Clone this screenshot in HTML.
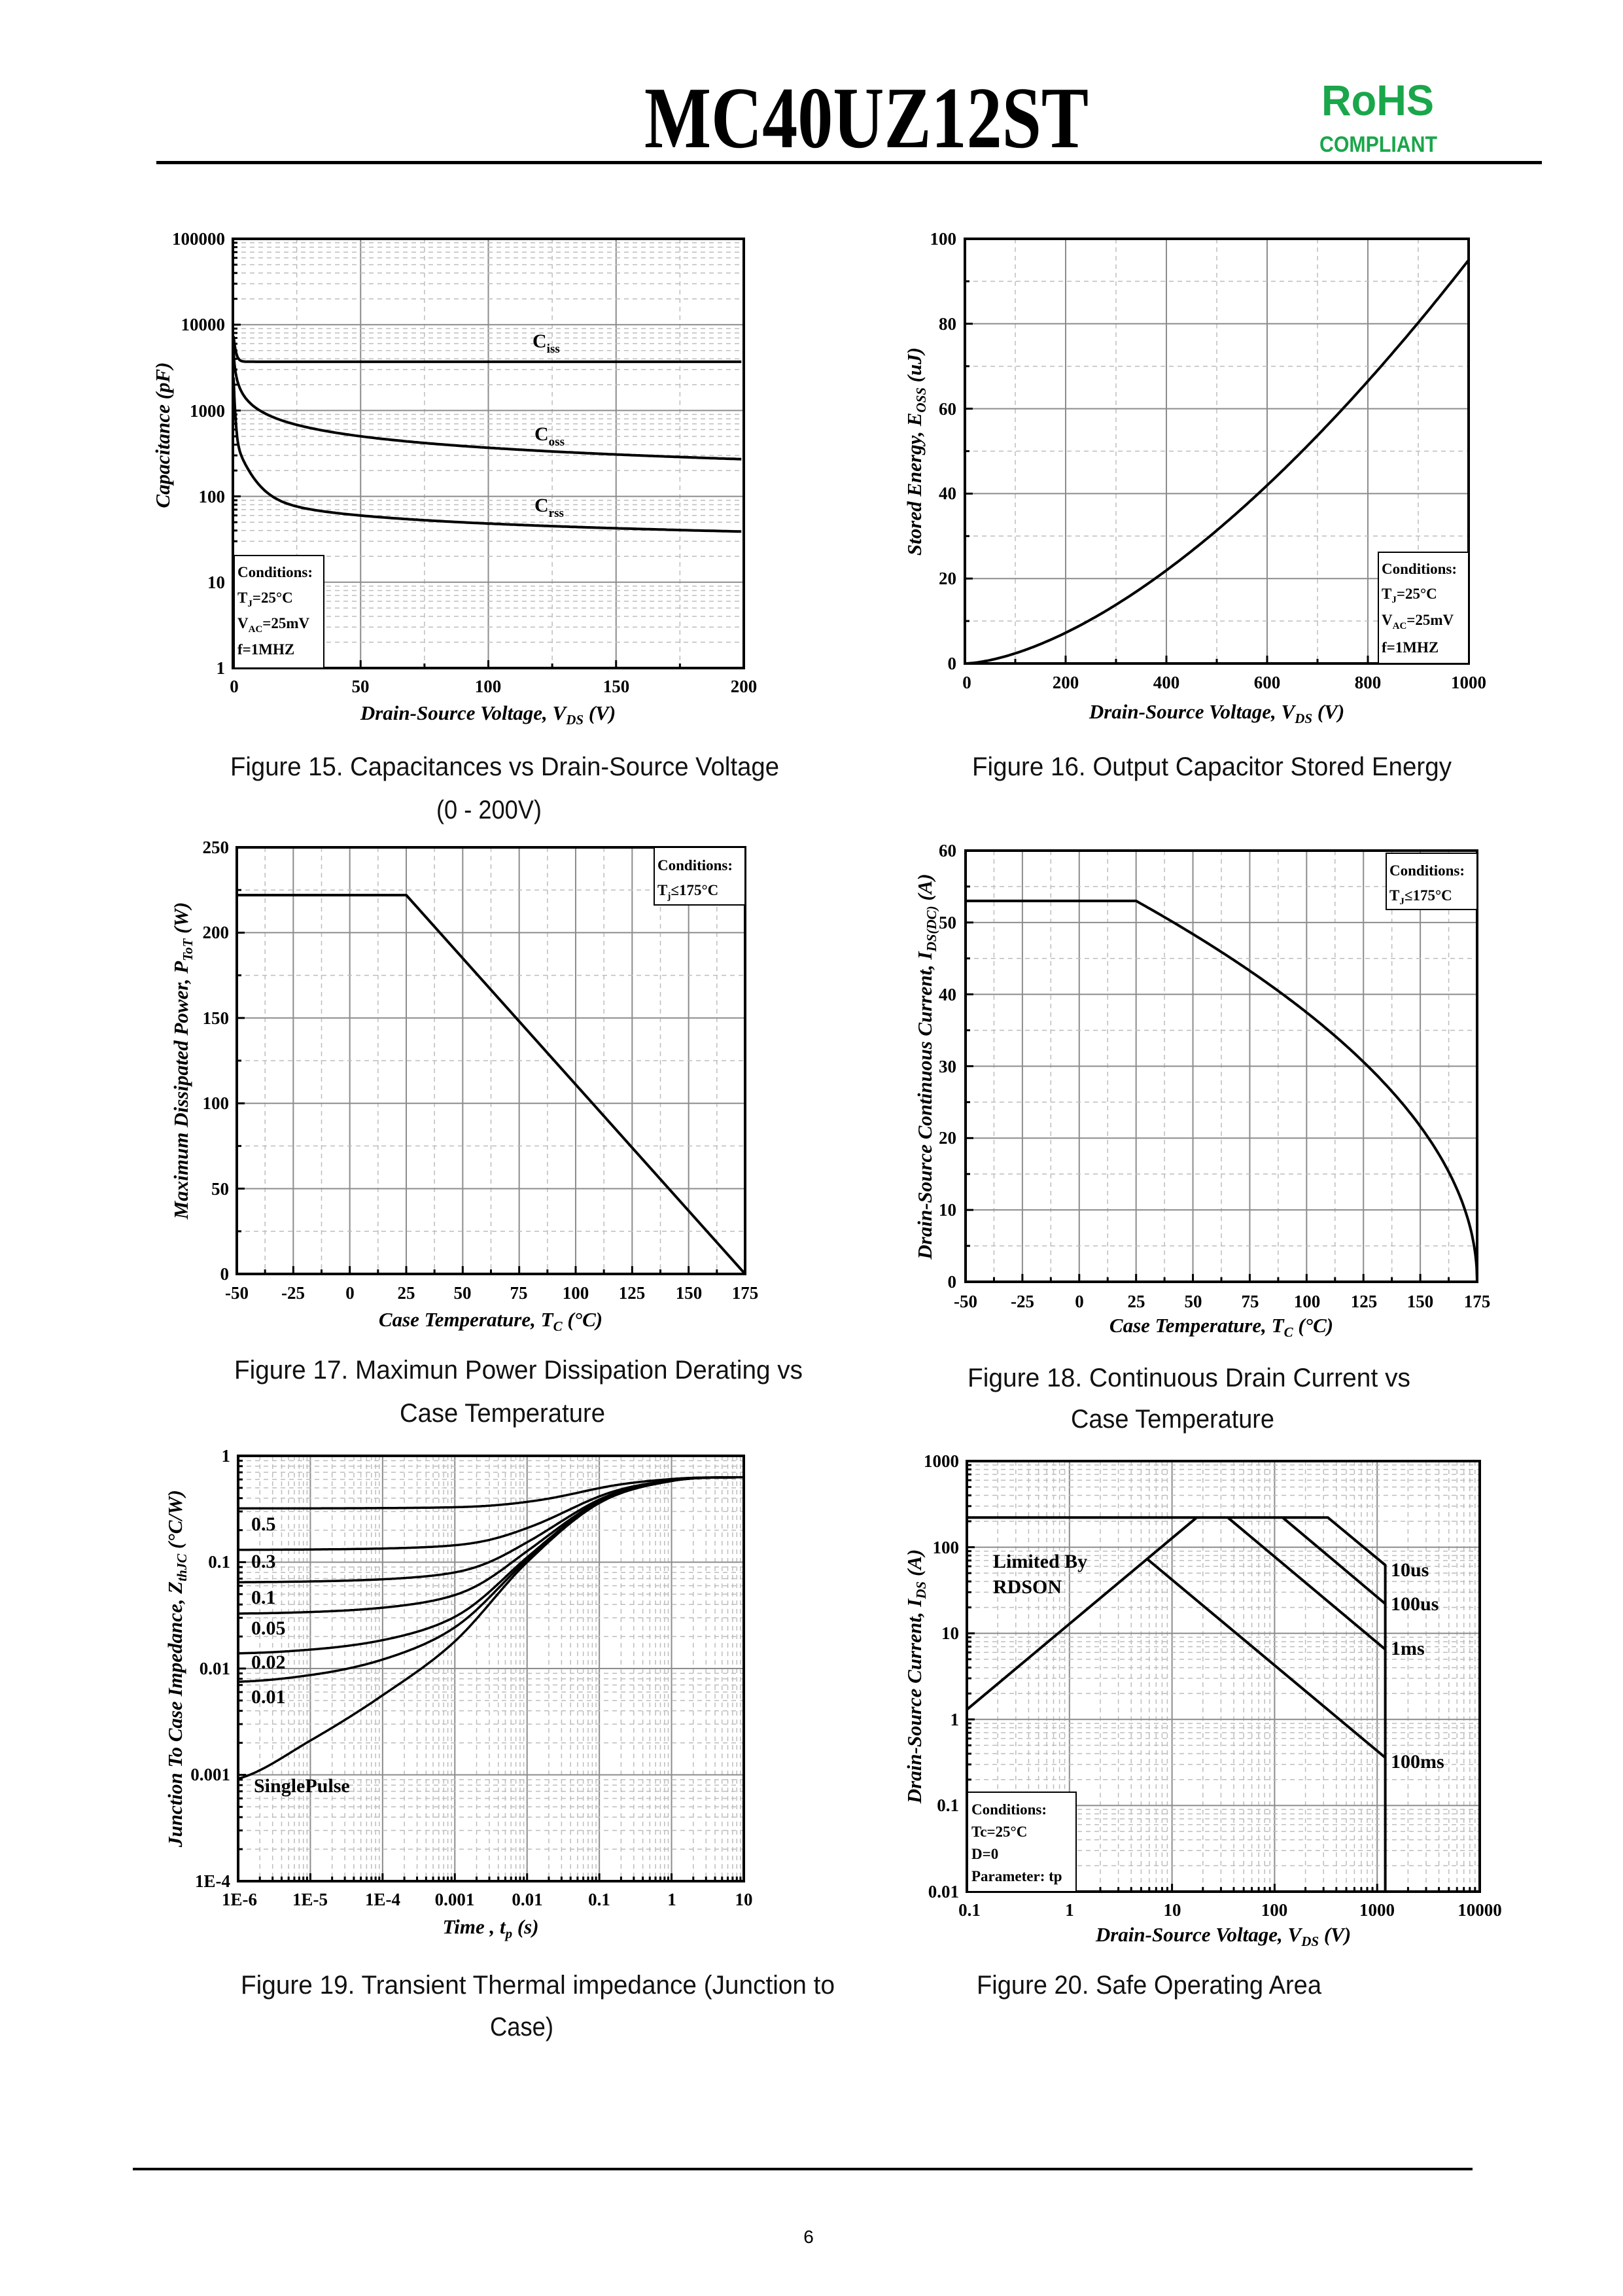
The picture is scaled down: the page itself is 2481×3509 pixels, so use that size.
<!DOCTYPE html>
<html><head><meta charset="utf-8"><style>
html,body{margin:0;padding:0;background:#fff}
svg{display:block}
.t{font-family:"Liberation Serif",serif;font-weight:bold;font-size:27px;fill:#000}
.ax{font-family:"Liberation Serif",serif;font-weight:bold;font-style:italic;font-size:31px;fill:#000}
.cd{font-family:"Liberation Serif",serif;font-weight:bold;font-size:23px;fill:#000}
.cap{font-family:"Liberation Sans Narrow","Liberation Sans",sans-serif;font-size:40px;fill:#111}
.lb{font-family:"Liberation Serif",serif;font-weight:bold;font-size:30px;fill:#000}
</style></head><body>
<svg id="s" xmlns="http://www.w3.org/2000/svg" width="2481" height="3509" viewBox="0 0 2481 3509">
<rect width="2481" height="3509" fill="#fff"/>
<g id="gr"></g>
<g id="tx">
<!-- header -->
<text x="985" y="225" font-family="Liberation Serif,serif" font-weight="bold" font-size="134" textLength="679" lengthAdjust="spacingAndGlyphs">MC40UZ12ST</text>
<text x="2020" y="176" font-family="Liberation Sans,sans-serif" font-weight="bold" font-size="66" fill="#1aa64a" textLength="172" lengthAdjust="spacingAndGlyphs">RoHS</text>
<text x="2017" y="232" font-family="Liberation Sans,sans-serif" font-weight="bold" font-size="34" fill="#1aa64a" textLength="180" lengthAdjust="spacingAndGlyphs">COMPLIANT</text>
<rect x="239" y="246" width="2118" height="5" fill="#000"/>
<rect x="203" y="3313" width="2048" height="4" fill="#000"/>
<text x="1236" y="3428" font-family="Liberation Sans,sans-serif" font-size="28" text-anchor="middle">6</text>

<!-- captions -->
<text class="cap" x="352" y="1185" textLength="839" lengthAdjust="spacingAndGlyphs">Figure 15. Capacitances vs Drain-Source Voltage</text>
<text class="cap" x="667" y="1251" textLength="161" lengthAdjust="spacingAndGlyphs">(0 - 200V)</text>
<text class="cap" x="1486" y="1185" textLength="733" lengthAdjust="spacingAndGlyphs">Figure 16. Output Capacitor Stored Energy</text>
<text class="cap" x="358" y="2107" textLength="869" lengthAdjust="spacingAndGlyphs">Figure 17. Maximun Power Dissipation Derating vs</text>
<text class="cap" x="611" y="2173" textLength="314" lengthAdjust="spacingAndGlyphs">Case Temperature</text>
<text class="cap" x="1479" y="2119" textLength="677" lengthAdjust="spacingAndGlyphs">Figure 18. Continuous Drain Current vs</text>
<text class="cap" x="1637" y="2182" textLength="311" lengthAdjust="spacingAndGlyphs">Case Temperature</text>
<text class="cap" x="368" y="3047" textLength="908" lengthAdjust="spacingAndGlyphs">Figure 19. Transient Thermal impedance (Junction to</text>
<text class="cap" x="749" y="3111" textLength="97" lengthAdjust="spacingAndGlyphs">Case)</text>
<text class="cap" x="1493" y="3047" textLength="527" lengthAdjust="spacingAndGlyphs">Figure 20. Safe Operating Area</text>

<!-- Chart 15 -->
<g class="t" text-anchor="end">
<text x="344" y="374">100000</text><text x="344" y="505">10000</text><text x="344" y="637">1000</text>
<text x="344" y="768">100</text><text x="344" y="899">10</text><text x="344" y="1030">1</text>
</g>
<g class="t" text-anchor="middle">
<text x="358" y="1058">0</text><text x="551" y="1058">50</text><text x="746" y="1058">100</text><text x="942" y="1058">150</text><text x="1137" y="1058">200</text>
</g>
<text class="ax" x="746" y="1100" text-anchor="middle">Drain-Source Voltage, V<tspan font-size="21" dy="7">DS</tspan><tspan dy="-7"> (V)</tspan></text>
<text class="ax" font-size="35" transform="translate(259,665) rotate(-90)" text-anchor="middle">Capacitance (pF)</text>
<text class="lb" x="814" y="531">C<tspan font-size="19" dy="8">iss</tspan></text>
<text class="lb" x="817" y="673">C<tspan font-size="19" dy="8">oss</tspan></text>
<text class="lb" x="817" y="782">C<tspan font-size="19" dy="8">rss</tspan></text>
<g class="cd">
<text x="363" y="882">Conditions:</text>
<text x="363" y="921">T<tspan font-size="15" dy="6">J</tspan><tspan dy="-6">=25°C</tspan></text>
<text x="363" y="960">V<tspan font-size="15" dy="6">AC</tspan><tspan dy="-6">=25mV</tspan></text>
<text x="363" y="1000">f=1MHZ</text>
</g>

<!-- Chart 16 -->
<g class="t" text-anchor="end">
<text x="1462" y="374">100</text><text x="1462" y="504">80</text><text x="1462" y="634">60</text>
<text x="1462" y="763">40</text><text x="1462" y="893">20</text><text x="1462" y="1023">0</text>
</g>
<g class="t" text-anchor="middle">
<text x="1478" y="1052">0</text><text x="1629" y="1052">200</text><text x="1783" y="1052">400</text><text x="1937" y="1052">600</text><text x="2091" y="1052">800</text><text x="2245" y="1052">1000</text>
</g>
<text class="ax" x="1860" y="1098" text-anchor="middle">Drain-Source Voltage, V<tspan font-size="21" dy="7">DS</tspan><tspan dy="-7"> (V)</tspan></text>
<text class="ax" transform="translate(1408,690) rotate(-90)" text-anchor="middle">Stored Energy, E<tspan font-size="21" dy="7">OSS</tspan><tspan dy="-7"> (uJ)</tspan></text>
<g class="cd">
<text x="2112" y="877">Conditions:</text>
<text x="2112" y="915">T<tspan font-size="15" dy="6">J</tspan><tspan dy="-6">=25°C</tspan></text>
<text x="2112" y="955">V<tspan font-size="15" dy="6">AC</tspan><tspan dy="-6">=25mV</tspan></text>
<text x="2112" y="997">f=1MHZ</text>
</g>

<!-- Chart 17 -->
<g class="t" text-anchor="end">
<text x="350" y="1304">250</text><text x="350" y="1434">200</text><text x="350" y="1565">150</text>
<text x="350" y="1695">100</text><text x="350" y="1826">50</text><text x="350" y="1956">0</text>
</g>
<g class="t" text-anchor="middle">
<text x="362" y="1985">-50</text><text x="448" y="1985">-25</text><text x="535" y="1985">0</text><text x="621" y="1985">25</text><text x="707" y="1985">50</text><text x="793" y="1985">75</text><text x="880" y="1985">100</text><text x="966" y="1985">125</text><text x="1053" y="1985">150</text><text x="1139" y="1985">175</text>
</g>
<text class="ax" x="750" y="2027" text-anchor="middle">Case Temperature, T<tspan font-size="21" dy="7">C</tspan><tspan dy="-7"> (°C)</tspan></text>
<text class="ax" transform="translate(287,1621) rotate(-90)" text-anchor="middle">Maximum Dissipated Power, P<tspan font-size="21" dy="7">ToT</tspan><tspan dy="-7"> (W)</tspan></text>
<g class="cd">
<text x="1005" y="1330">Conditions:</text>
<text x="1005" y="1368">T<tspan font-size="15" dy="6">j</tspan><tspan dy="-6">≤175°C</tspan></text>
</g>

<!-- Chart 18 -->
<g class="t" text-anchor="end">
<text x="1462" y="1309">60</text><text x="1462" y="1419">50</text><text x="1462" y="1529">40</text>
<text x="1462" y="1639">30</text><text x="1462" y="1748">20</text><text x="1462" y="1858">10</text><text x="1462" y="1968">0</text>
</g>
<g class="t" text-anchor="middle">
<text x="1476" y="1998">-50</text><text x="1563" y="1998">-25</text><text x="1650" y="1998">0</text><text x="1737" y="1998">25</text><text x="1824" y="1998">50</text><text x="1911" y="1998">75</text><text x="1998" y="1998">100</text><text x="2085" y="1998">125</text><text x="2171" y="1998">150</text><text x="2258" y="1998">175</text>
</g>
<text class="ax" x="1867" y="2036" text-anchor="middle">Case Temperature, T<tspan font-size="21" dy="7">C</tspan><tspan dy="-7"> (°C)</tspan></text>
<text class="ax" transform="translate(1424,1630) rotate(-90)" text-anchor="middle">Drain-Source Continuous Current, I<tspan font-size="21" dy="7">DS(DC)</tspan><tspan dy="-7"> (A)</tspan></text>
<g class="cd">
<text x="2124" y="1338">Conditions:</text>
<text x="2124" y="1376">T<tspan font-size="15" dy="6">J</tspan><tspan dy="-6">≤175°C</tspan></text>
</g>

<!-- Chart 19 -->
<g class="t" text-anchor="end">
<text x="352" y="2234">1</text><text x="352" y="2396">0.1</text><text x="352" y="2559">0.01</text>
<text x="352" y="2721">0.001</text><text x="352" y="2884">1E-4</text>
</g>
<g class="t" text-anchor="middle">
<text x="366" y="2912">1E-6</text><text x="474" y="2912">1E-5</text><text x="585" y="2912">1E-4</text><text x="695" y="2912">0.001</text><text x="806" y="2912">0.01</text><text x="916" y="2912">0.1</text><text x="1027" y="2912">1</text><text x="1137" y="2912">10</text>
</g>
<text class="ax" x="750" y="2955" text-anchor="middle">Time , t<tspan font-size="21" dy="7">p</tspan><tspan dy="-7"> (s)</tspan></text>
<text class="ax" transform="translate(278,2550) rotate(-90)" text-anchor="middle">Junction To Case Impedance, Z<tspan font-size="21" dy="7">thJC</tspan><tspan dy="-7"> (°C/W)</tspan></text>
<g class="lb" font-size="27">
<text x="384" y="2339">0.5</text><text x="384" y="2396">0.3</text><text x="384" y="2451">0.1</text>
<text x="384" y="2498">0.05</text><text x="384" y="2550">0.02</text><text x="384" y="2603">0.01</text>
<text x="388" y="2739">SinglePulse</text>
</g>

<!-- Chart 20 -->
<g class="t" text-anchor="end">
<text x="1466" y="2242">1000</text><text x="1466" y="2374">100</text><text x="1466" y="2505">10</text>
<text x="1466" y="2637">1</text><text x="1466" y="2768">0.1</text><text x="1466" y="2900">0.01</text>
</g>
<g class="t" text-anchor="middle">
<text x="1482" y="2928">0.1</text><text x="1635" y="2928">1</text><text x="1792" y="2928">10</text><text x="1948" y="2928">100</text><text x="2105" y="2928">1000</text><text x="2262" y="2928">10000</text>
</g>
<text class="ax" x="1870" y="2967" text-anchor="middle">Drain-Source Voltage, V<tspan font-size="21" dy="7">DS</tspan><tspan dy="-7"> (V)</tspan></text>
<text class="ax" transform="translate(1408,2562) rotate(-90)" text-anchor="middle">Drain-Source Current, I<tspan font-size="21" dy="7">DS</tspan><tspan dy="-7"> (A)</tspan></text>
<g class="lb" font-size="29">
<text x="1518" y="2396">Limited By</text><text x="1518" y="2435">RDSON</text>
<text x="2126" y="2409">10us</text><text x="2126" y="2461">100us</text><text x="2126" y="2529">1ms</text><text x="2126" y="2702">100ms</text>
</g>
<g class="cd" font-size="22">
<text x="1485" y="2773">Conditions:</text>
<text x="1485" y="2807">Tc=25°C</text>
<text x="1485" y="2841">D=0</text>
<text x="1485" y="2875">Parameter: tp</text>
</g>
</g>
</svg>
<script>
(function(){
var NS='http://www.w3.org/2000/svg',G=document.getElementById('gr');
function el(t,a){var e=document.createElementNS(NS,t);for(var k in a)e.setAttribute(k,a[k]);G.appendChild(e);return e;}
var MAJ={stroke:'#8c8c8c','stroke-width':2},MIN={stroke:'#bdbdbd','stroke-width':1.5,'stroke-dasharray':'7 6'};
function ln(x1,y1,x2,y2,s){var a={x1:x1,y1:y1,x2:x2,y2:y2};for(var k in s)a[k]=s[k];el('line',a);}
function lin(a0,a1,p0,p1){return function(v){return p0+(v-a0)/(a1-a0)*(p1-p0);};}
function lg(a0,a1,p0,p1){return function(v){return p0+(Math.log10(v)-a0)/(a1-a0)*(p1-p0);};}
function path(pts,w){var d='';for(var i=0;i<pts.length;i++)d+=(i?'L':'M')+pts[i][0].toFixed(1)+' '+pts[i][1].toFixed(1);el('path',{d:d,fill:'none',stroke:'#000','stroke-width':w||4,'stroke-linejoin':'round'});}
function frame(L,T,R,B){el('rect',{x:L,y:T,width:R-L,height:B-T,fill:'none',stroke:'#000','stroke-width':4});}
function box(x,y,w,h){el('rect',{x:x,y:y,width:w,height:h,fill:'#fff',stroke:'#000','stroke-width':2});}
function linGridX(L,T,R,B,f,a0,a1,maj,mn){for(var v=a0;v<=a1+1e-9;v+=mn){var x=f(v);var isM=Math.abs((v-a0)/maj-Math.round((v-a0)/maj))<1e-6;ln(x,T,x,B,isM?MAJ:MIN);ln(x,B,x,B-(isM?12:7),{stroke:'#000','stroke-width':3});}}
function linGridY(L,T,R,B,f,a0,a1,maj,mn){for(var v=a0;v<=a1+1e-9;v+=mn){var y=f(v);var isM=Math.abs((v-a0)/maj-Math.round((v-a0)/maj))<1e-6;ln(L,y,R,y,isM?MAJ:MIN);ln(L,y,L+(isM?12:7),y,{stroke:'#000','stroke-width':3});}}
function logGridY(L,T,R,B,f,e0,e1){for(var e=e0;e<=e1;e++){var y=f(Math.pow(10,e));ln(L,y,R,y,MAJ);ln(L,y,L+12,y,{stroke:'#000','stroke-width':3});if(e<e1)for(var m=2;m<10;m++){var yy=f(m*Math.pow(10,e));ln(L,yy,R,yy,MIN);ln(L,yy,L+7,yy,{stroke:'#000','stroke-width':3});}}}
function logGridX(L,T,R,B,f,e0,e1){for(var e=e0;e<=e1;e++){var x=f(Math.pow(10,e));ln(x,T,x,B,MAJ);ln(x,B,x,B-12,{stroke:'#000','stroke-width':3});if(e<e1)for(var m=2;m<10;m++){var xx=f(m*Math.pow(10,e));ln(xx,T,xx,B,MIN);ln(xx,B,xx,B-7,{stroke:'#000','stroke-width':3});}}}

(function(){var L=356,R=1137,T=365,B=1021;var fx=lin(0,200,L,R),fy=lg(0,5,B,T);
linGridX(L,T,R,B,fx,0,200,50,25);logGridY(L,T,R,B,fy,0,5);
var ci=[],co=[],cr=[];for(var v=0.25;v<=200;v+=(v<5?0.05:1)){
ci.push([fx(v),fy(Math.min(3700+5000*Math.exp(-v/0.8),9000))]);
co.push([fx(v),fy(Math.min(2846*Math.pow(v,-0.444),6000))]);
cr.push([fx(v),fy(Math.min(202*Math.pow(v,-0.311)+300*Math.exp(-v/5)+3000*Math.exp(-v/0.5),4000))]);}
path(ci);path(co);path(cr);frame(L,T,R,B);box(358,849,137,172);})();

(function(){var L=1475,R=2245,T=365,B=1014;var fx=lin(0,1000,L,R),fy=lin(0,100,B,T);
linGridX(L,T,R,B,fx,0,1000,200,100);linGridY(L,T,R,B,fy,0,100,20,10);
var p=[];for(var v=0;v<=1000;v+=5)p.push([fx(v),fy(95*Math.pow(v/1000,1.6))]);path(p);frame(L,T,R,B);box(2107,844,138,170);})();

(function(){var L=362,R=1139,T=1295,B=1947;var fx=lin(-50,175,L,R),fy=lin(0,250,B,T);
linGridX(L,T,R,B,fx,-50,175,25,12.5);linGridY(L,T,R,B,fy,0,250,50,25);
path([[fx(-50),fy(222)],[fx(25),fy(222)],[fx(175),fy(0)]]);frame(L,T,R,B);box(1000,1295,139,88);})();

(function(){var L=1476,R=2258,T=1300,B=1959;var fx=lin(-50,175,L,R),fy=lin(0,60,B,T);
linGridX(L,T,R,B,fx,-50,175,25,12.5);linGridY(L,T,R,B,fy,0,60,10,5);
var p=[[fx(-50),fy(53)]];for(var t=25;t<=175.001;t+=(t<165?1:0.2))p.push([fx(t),fy(53*Math.sqrt(Math.max(0,175-t)/150))]);
path(p);frame(L,T,R,B);box(2119,1304,139,86);})();

(function(){var L=364,R=1137,T=2225,B=2875;var fx=lg(-6,1,L,R),fy=lg(-4,0,B,T);
logGridX(L,T,R,B,fx,-6,1);logGridY(L,T,R,B,fy,-4,0);
var lt=[-6,-5,-4,-3,-2,-1,0,1],lz=[0.00092,0.0021,0.0056,0.018,0.1,0.36,0.58,0.63].map(Math.log10);
function zs(t){var x=Math.log10(t);if(x<=-6)return Math.pow(10,lz[0]);if(x>=1)return Math.pow(10,lz[7]);
var i=Math.min(6,Math.floor(x+6)),u=x-lt[i];var p0=lz[Math.max(0,i-1)],p1=lz[i],p2=lz[i+1],p3=lz[Math.min(7,i+2)];
var m1=(p2-p0)/2,m2=(p3-p1)/2;var h00=2*u*u*u-3*u*u+1,h10=u*u*u-2*u*u+u,h01=-2*u*u*u+3*u*u,h11=u*u*u-u*u;
return Math.pow(10,h00*p1+h10*m1+h01*p2+h11*m2);}
var Zf=[0.32,0.13,0.064,0.032,0.013,0.0066,0];
Zf.forEach(function(z){var p=[];for(var x=-6;x<=1.0001;x+=0.02){var t=Math.pow(10,x);p.push([fx(t),fy(z+(1-z/0.63)*zs(t))]);}path(p,3.5);});
frame(L,T,R,B);})();

(function(){var L=1478,R=2262,T=2233,B=2891;var fx=lg(-1,4,L,R),fy=lg(-2,3,B,T);
logGridX(L,T,R,B,fx,-1,4);logGridY(L,T,R,B,fy,-2,3);
function P(a){return a.map(function(q){return [fx(q[0]),fy(q[1])];});}
path(P([[0.1,221],[331,221],[1200,62],[1200,0.01]]));
path(P([[0.1,1.3],[17.4,221]]));
path(P([[120,221],[1200,22]]));
path(P([[35,221],[1200,6.5]]));
path(P([[5.8,72],[1200,0.36]]));
frame(L,T,R,B);box(1479,2739,166,152);})();
})();
</script>
</body></html>
